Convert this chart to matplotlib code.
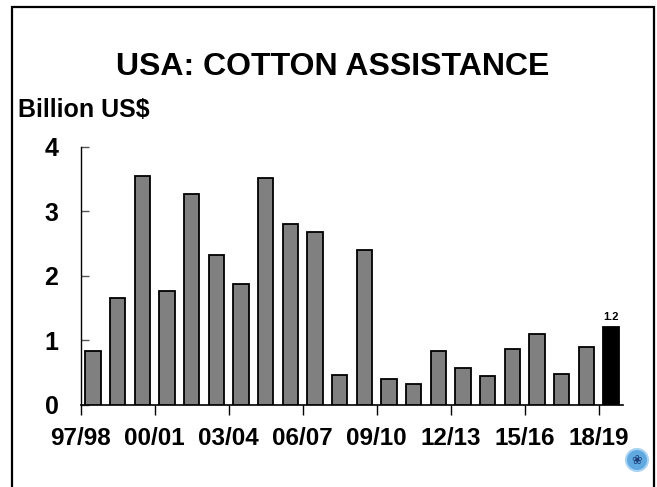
import matplotlib
matplotlib.use("Agg")
import matplotlib.pyplot as plt
from matplotlib.patches import Rectangle, Circle

plt.rcParams['font.family'] = ['Liberation Sans', 'DejaVu Sans']
plt.rcParams['font.weight'] = 'bold'

# Marketing years 1997/98 .. 2018/19
seasons = ["97/98", "98/99", "99/00", "00/01", "01/02", "02/03", "03/04", "04/05",
           "05/06", "06/07", "07/08", "08/09", "09/10", "10/11", "11/12", "12/13",
           "13/14", "14/15", "15/16", "16/17", "17/18", "18/19"]
assistance = [0.83, 1.65, 3.55, 1.76, 3.27, 2.32, 1.88, 3.51, 2.81, 2.68, 0.47,
              2.40, 0.40, 0.33, 0.84, 0.57, 0.45, 0.87, 1.10, 0.48, 0.90, 1.2]
tick_labels = ["97/98", "00/01", "03/04", "06/07", "09/10", "12/13", "15/16", "18/19"]
yticks = [0, 1, 2, 3, 4]

fig = plt.figure(figsize=(6.57, 4.87), dpi=100)
ax = fig.add_axes([0.1228, 0.1684, 0.8259, 0.5304])

n = len(seasons)
xs = list(range(n))
colors = ["#808080"] * (n - 1) + ["#000000"]
ax.bar(xs, assistance, width=0.62, color=colors, edgecolor="black", linewidth=1.3, zorder=3)

# Value label on the latest season
ax.text(xs[-1], assistance[-1] + 0.09, f"{assistance[-1]:g}", ha="center", va="bottom",
        fontsize=8, fontweight="bold")

ax.set_xlim(-0.5, n - 0.5)
ax.set_ylim(0, 4)

ax.set_xticks([i - 0.5 for i in range(0, n, 3)])
ax.set_xticklabels(tick_labels, fontsize=17.5, fontweight="bold")
ax.set_yticks(yticks)
ax.set_yticklabels([str(v) for v in yticks], fontsize=18, fontweight="bold")

ax.tick_params(axis="x", direction="out", length=7, width=1, pad=9, color="black")
ax.tick_params(axis="y", direction="in", length=6, width=1, pad=16, color="#555555")

for side in ("top", "right"):
    ax.spines[side].set_visible(False)
ax.spines["left"].set_linewidth(1)
ax.spines["bottom"].set_linewidth(1.2)

fig.text(0.507, 0.846, "USA: COTTON ASSISTANCE", ha="center", va="baseline",
         fontsize=23, fontweight="bold")
fig.text(0.028, 0.760, "Billion US$", ha="left", va="baseline",
         fontsize=18, fontweight="bold")

# Slide frame (open at the bottom edge)
fig.add_artist(Rectangle((12 / 657, -0.05), (654 - 12) / 657, 1.05 - 7 / 487,
                         transform=fig.transFigure, fill=False, edgecolor="black",
                         linewidth=1.6))

# Small round logo badge in the lower right corner
lx, ly = 637 / 657, 1 - 460 / 487
badge = Circle((637, 487 - 460), 11, transform=None, facecolor="#5fa8e0",
               edgecolor="#a9d3f2", linewidth=1.5)
fig.add_artist(badge)
fig.text(lx, ly, "\u2740", ha="center", va="center", fontsize=9, color="#1d3c78",
         family=["DejaVu Sans"])

fig.savefig("out.png", dpi=100)
